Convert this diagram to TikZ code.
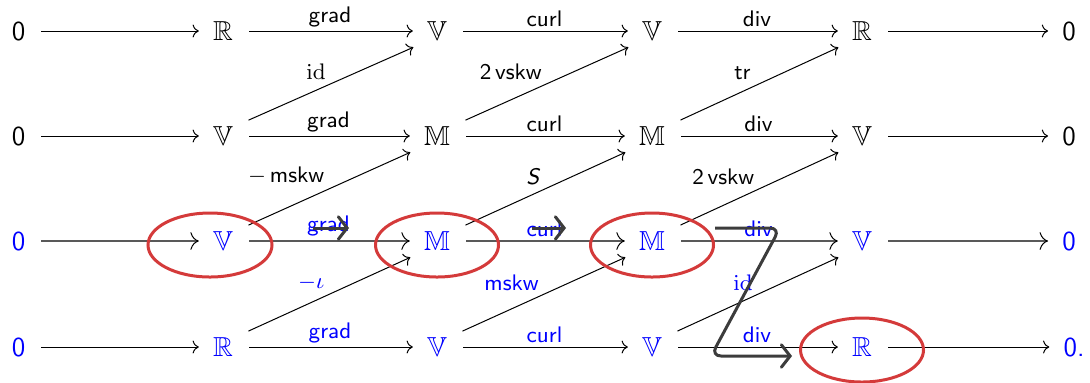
\documentclass[tikz,border=0pt]{standalone}
\usepackage{amsmath,amssymb}
\usepackage{xcolor}
\usetikzlibrary{positioning,arrows.meta}

\begin{document}
\begin{tikzpicture}[x=0.4pt, y=-0.4pt, font=\sffamily\fontsize{11}{13}\selectfont]
  % Colours for the marks drawn on top
  \definecolor{ringred}{HTML}{D43A3A}
  \definecolor{notegray}{HTML}{3C3C3C}

  \tikzstyle{obj} = [inner sep=3pt]
  \tikzstyle{map} = [->, shorten <=3.3pt, shorten >=2.5pt]
  \tikzstyle{mapthick} = [map, -{To[color=black, line width=0.4pt]},
    line width=0.8pt, color=black!65]
  \tikzstyle{lbl} = [font=\sffamily\fontsize{9}{11}\selectfont, inner sep=1.5pt]
  \tikzstyle{ring} = [draw=ringred, line width=1.2pt]
  \tikzstyle{note} = [-{Straight Barb[length=3.5pt, width=9pt, line cap=round]},
    line width=1.2pt, color=notegray, rounded corners=4pt]

  \useasboundingbox (0,0) rectangle (1090,382);

  % Row 1
  \node[obj] (r1c0) at (18.5,31) {0};
  \node[obj] (r1c1) at (223,31) {$\mathbb{R}$};
  \node[obj] (r1c2) at (437,31) {$\mathbb{V}$};
  \node[obj] (r1c3) at (652,31) {$\mathbb{V}$};
  \node[obj] (r1c4) at (862,31) {$\mathbb{R}$};
  \node[obj] (r1c5) at (1069,31) {0};

  % Row 2
  \node[obj] (r2c0) at (18.5,136) {0};
  \node[obj] (r2c1) at (223,136) {$\mathbb{V}$};
  \node[obj] (r2c2) at (437,136) {$\mathbb{M}$};
  \node[obj] (r2c3) at (652,136) {$\mathbb{M}$};
  \node[obj] (r2c4) at (862,136) {$\mathbb{V}$};
  \node[obj] (r2c5) at (1069,136) {0};

  % Row 3 (blue)
  \node[obj, text=blue] (r3c0) at (18.5,241) {0};
  \node[obj, text=blue] (r3c1) at (223,241) {$\mathbb{V}$};
  \node[obj, text=blue] (r3c2) at (437,241) {$\mathbb{M}$};
  \node[obj, text=blue] (r3c3) at (652,241) {$\mathbb{M}$};
  \node[obj, text=blue] (r3c4) at (862,241) {$\mathbb{V}$};
  \node[obj, text=blue] (r3c5) at (1069,241) {0};

  % Row 4 (blue)
  \node[obj, text=blue] (r4c0) at (18.5,347) {0};
  \node[obj, text=blue] (r4c1) at (223,347) {$\mathbb{R}$};
  \node[obj, text=blue] (r4c2) at (437,347) {$\mathbb{V}$};
  \node[obj, text=blue] (r4c3) at (652,347) {$\mathbb{V}$};
  \node[obj, text=blue] (r4c4) at (862,347) {$\mathbb{R}$};
  \node[obj, text=blue] (r4c5) at (1074,347) {0.};

  % Horizontal maps
  \draw[map] (r1c0) -- (r1c1);
  \draw[map] (r1c1) -- (r1c2) node[lbl, above, midway] {grad};
  \draw[map] (r1c2) -- (r1c3) node[lbl, above, midway] {curl};
  \draw[map] (r1c3) -- (r1c4) node[lbl, above, midway] {div};
  \draw[map] (r1c4) -- (r1c5);

  \draw[map] (r2c0) -- (r2c1);
  \draw[map] (r2c1) -- (r2c2) node[lbl, above, midway] {grad};
  \draw[map] (r2c2) -- (r2c3) node[lbl, above, midway] {curl};
  \draw[map] (r2c3) -- (r2c4) node[lbl, above, midway] {div};
  \draw[map] (r2c4) -- (r2c5);

  \draw[mapthick] (r3c0) -- (r3c1);
  \draw[mapthick] (r3c1) -- (r3c2) node[lbl, above, midway, text=blue] {grad};
  \draw[mapthick] (r3c2) -- (r3c3) node[lbl, above, midway, text=blue] {curl};
  \draw[mapthick] (r3c3) -- (r3c4) node[lbl, above, midway, text=blue] {div};
  \draw[mapthick] (r3c4) -- (r3c5);

  \draw[map] (r4c0) -- (r4c1);
  \draw[map] (r4c1) -- (r4c2) node[lbl, above, midway, text=blue] {grad};
  \draw[map] (r4c2) -- (r4c3) node[lbl, above, midway, text=blue] {curl};
  \draw[map] (r4c3) -- (r4c4) node[lbl, above, midway, text=blue] {div};
  \draw[map] (r4c4) -- (r4c5);

  % Diagonal maps
  \draw[map] ([yshift=5pt]r2c1.east) -- ([yshift=-5.5pt]r1c2.west)
    node[lbl, above left, midway] {$\mathrm{id}$};
  \draw[map] ([yshift=5pt]r2c2.east) -- ([yshift=-5.5pt]r1c3.west)
    node[lbl, above left, midway] {2\,vskw};
  \draw[map] ([yshift=5pt]r2c3.east) -- ([yshift=-5.5pt]r1c4.west)
    node[lbl, above left, midway, xshift=-1.5pt] {tr};

  \draw[map] ([yshift=5pt]r3c1.east) -- ([yshift=-5.5pt]r2c2.west)
    node[lbl, above left, midway] {$-$\,mskw};
  \draw[map] ([yshift=5pt]r3c2.east) -- ([yshift=-5.5pt]r2c3.west)
    node[lbl, above left, midway] {\textit{S}};
  \draw[map] ([yshift=5pt]r3c3.east) -- ([yshift=-5.5pt]r2c4.west)
    node[lbl, above left, midway] {2\,vskw};

  \draw[map] ([yshift=5pt]r4c1.east) -- ([yshift=-5.5pt]r3c2.west)
    node[lbl, above left, midway, text=blue] {$-\iota$};
  \draw[map] ([yshift=5pt]r4c2.east) -- ([yshift=-5.5pt]r3c3.west)
    node[lbl, above left, midway, text=blue] {mskw};
  \draw[map] ([yshift=5pt]r4c3.east) -- ([yshift=-5.5pt]r3c4.west)
    node[lbl, above left, midway, text=blue] {$\mathrm{id}$};

  % Rings round the highlighted spaces
  \draw[ring] ([xshift=-5.2pt, yshift=-1.6pt]r3c1) ellipse [x radius=24.8pt, y radius=12.8pt];
  \draw[ring] ([yshift=-1.6pt]r3c2) ellipse [x radius=24.6pt, y radius=12.8pt];
  \draw[ring] ([yshift=-1.6pt]r3c3) ellipse [x radius=24.6pt, y radius=12.8pt];
  \draw[ring] ([yshift=-1.2pt]r4c4) ellipse [x radius=24.6pt, y radius=12.8pt];

  % Hand-drawn arrows
  \coordinate (g0) at (313,228);
  \coordinate (g1) at (349,228);
  \coordinate (c0) at (532,228);
  \coordinate (c1) at (566,228);
  \coordinate (z0) at (715,228);
  \coordinate (z1) at (780,228);
  \coordinate (z2) at (711,356);
  \coordinate (z3) at (792,356);
  \draw[note] (g0) -- (g1);
  \draw[note] (c0) -- (c1);
  \draw[note] (z0) -- (z1) -- (z2) -- (z3);
\end{tikzpicture}
\end{document}
